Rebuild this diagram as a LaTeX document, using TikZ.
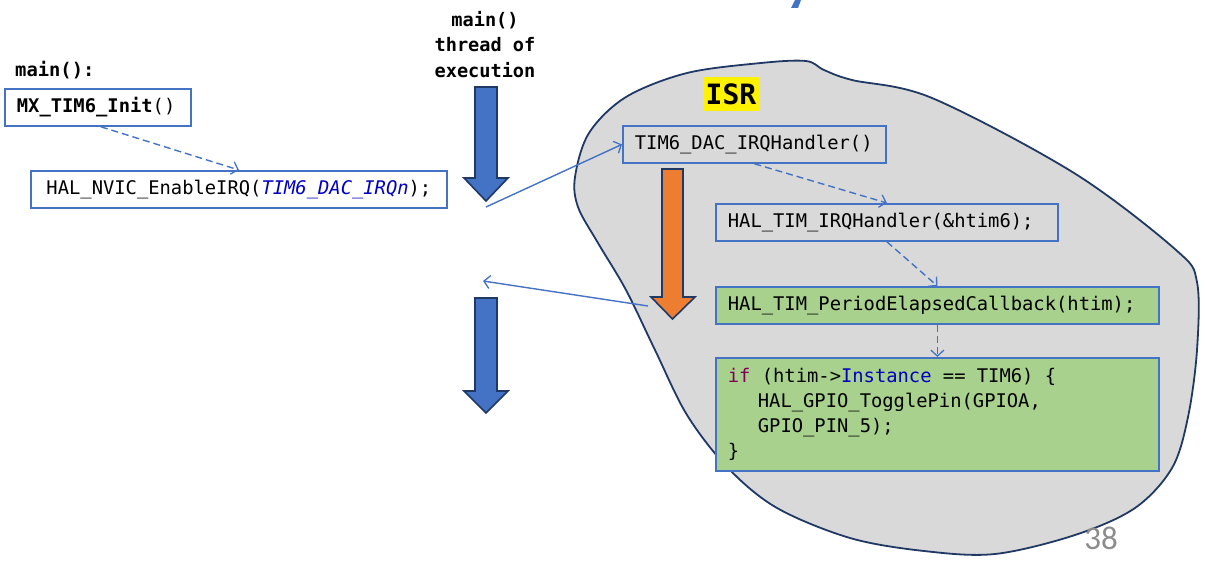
\documentclass[tikz,border=0pt]{standalone}
\usepackage{fontspec}
\setmonofont{DejaVu Sans Mono}
\newfontfamily\numfont{Carlito}
\usetikzlibrary{arrows.meta}
\definecolor{bblue}{HTML}{4472C4}
\definecolor{dnavy}{HTML}{203864}
\definecolor{borange}{HTML}{ED7D31}
\definecolor{bgreen}{HTML}{A9D18E}
\definecolor{bgray}{HTML}{D9D9D9}
\definecolor{kwred}{HTML}{7F0055}
\definecolor{kwblue}{HTML}{0000C0}
\definecolor{numgray}{HTML}{8C8C8C}
\newcommand\csp{\hspace*{0.602em}}
\begin{document}
\begin{tikzpicture}[x=1pt,y=-1pt,
  code/.style={font=\fontsize{18.8}{25}\selectfont\ttfamily},
  codebox/.style={code, draw=bblue, line width=1.8pt, inner xsep=12pt, inner ysep=0pt,
    minimum height=37pt, align=left, anchor=north west},
  conn/.style={draw=bblue, line width=1.4pt, -{Straight Barb[length=6pt,width=13pt,line width=1.3pt]}},
  dconn/.style={conn, dash pattern=on 7pt off 4pt},
  bigarrow/.style={draw=dnavy, line width=1.6pt, line join=miter}
]
\useasboundingbox (0,0) rectangle (1205,561);

% title fragment
\fill[bblue] (795,0) -- (801,0) -- (798,8) -- (791,8) -- cycle;

% ISR blob
\draw[fill=bgray, draw=dnavy, line width=1.8pt] plot[smooth cycle, tension=0.55] coordinates {
 (575,177) (589,133) (626,97) (687,73) (761,63) (806,61) (824,70) (852,80) (932,98)
 (1074,173) (1176,250) (1197,282) (1197,350) (1188,417) (1172,468) (1135,508)
 (1075,535) (995,554) (924,551) (850,538) (777,508) (728,468) (687,415)
 (655,350) (626,290) (598,243) (578,207)};

% left side texts
\node[code, font=\fontsize{18.8}{25}\selectfont\ttfamily\bfseries, anchor=base west, inner sep=0pt] (mainlbl) at (15,77) {main():};
\node[code, font=\fontsize{18.6}{25.5}\selectfont\ttfamily\bfseries, align=center, inner sep=0pt, anchor=north] (thread) at (485,11) {main()\\thread\csp{}of\\execution};

\node[codebox, text width=162pt] (mx) at (4,88) {\textbf{MX\_TIM6\_Init}()};
\node[codebox, text width=392pt, align=center] (nvic) at (30,170) {HAL\_NVIC\_EnableIRQ({\color{kwblue}\itshape TIM6\_DAC\_IRQn});};

% ISR label
\node[fill=yellow, font=\fontsize{28}{30}\selectfont\ttfamily\bfseries, minimum width=56pt, minimum height=34pt, inner sep=0pt] (isr) at (731,94) {ISR};

% ISR boxes
\node[codebox, text width=239pt] (tim) at (622,125) {TIM6\_DAC\_IRQHandler()};
\node[codebox, text width=318pt] (irq) at (715,203) {HAL\_TIM\_IRQHandler(\&htim6);};
\node[codebox, text width=419pt, fill=bgreen] (period) at (715,286) {HAL\_TIM\_PeriodElapsedCallback(htim);};
\node[codebox, text width=419pt, fill=bgreen, minimum height=113pt] (ifb) at (715,357)
 {{\color{kwred}if}\csp(htim->{\color{kwblue}Instance}\csp==\csp{}TIM6)\csp\{\\
  \hspace*{30pt}HAL\_GPIO\_TogglePin(GPIOA,\\
  \hspace*{30pt}GPIO\_PIN\_5);\\
  \}};

% big arrows
\draw[bigarrow, fill=bblue] (475,87) -- (497,87) -- (497,178) -- (508,178) -- (486,201) -- (464,178) -- (475,178) -- cycle;
\draw[bigarrow, fill=bblue] (475,298) -- (497,298) -- (497,391) -- (508,391) -- (486,413) -- (464,391) -- (475,391) -- cycle;
\draw[bigarrow, fill=borange] (662,169) -- (683,169) -- (683,297) -- (695,297) -- (672.5,319) -- (651,297) -- (662,297) -- cycle;

% connectors
\coordinate (c1) at (486,207);
\coordinate (c2) at (648,306);
\coordinate (c3) at (483,281);
\draw[conn] (c1) -- (tim.west);
\draw[conn] (c2) -- (c3);
\draw[dconn] ([xshift=3pt]mx.south) -- (nvic.north);
\draw[dconn] (tim.south) -- (irq.north);
\draw[dconn] (irq.south) -- (period.north);
\draw[dconn] (period.south) -- (ifb.north);

% page number
\node[font=\fontsize{33}{36}\selectfont\numfont, text=numgray, inner sep=0pt] (pnum) at (1101,538) {38};
\end{tikzpicture}
\end{document}
